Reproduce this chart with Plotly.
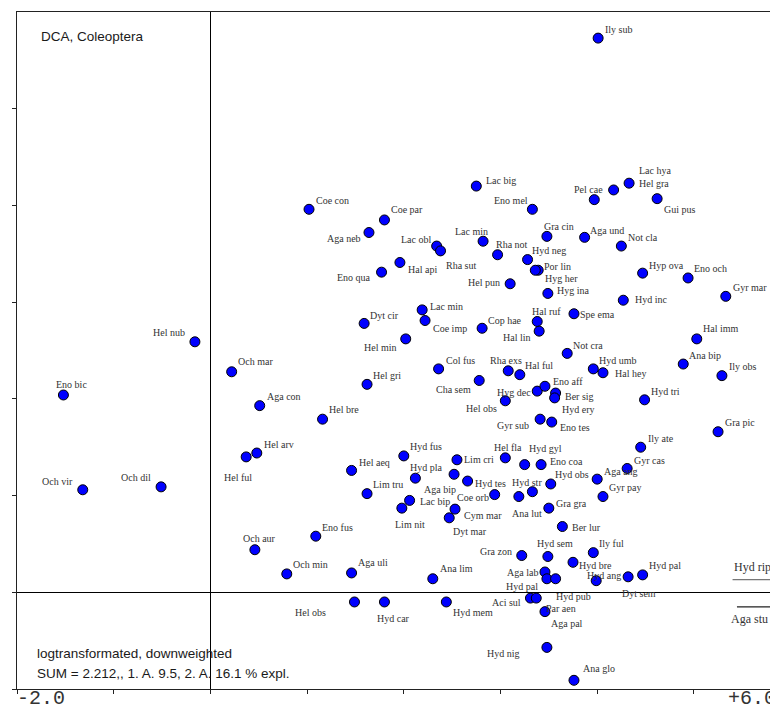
import plotly.graph_objects as go

# DCA species scores (axis 1, axis 2)
SPECIES = [
    "Ily sub", "Lac big", "Eno mel", "Pel cae", "Hel gra", "Lac hya", "Gui pus",
    "Coe con", "Coe par", "Aga neb", "Lac obl", "Rha sut", "Lac min", "Rha not",
    "Gra cin", "Aga und", "Not cla", "Hyd neg", "Por lin", "Hyg her", "Hyg ina",
    "Hel pun", "Hal api", "Eno qua", "Hyp ova", "Eno och", "Gyr mar", "Hyd inc",
    "Spe ema", "Hal ruf", "Hal lin", "Lac min", "Coe imp", "Dyt cir", "Hel min",
    "Cop hae", "Hel nub", "Och mar", "Eno bic", "Not cra", "Hal imm", "Ana bip",
    "Ily obs", "Hyd umb", "Hal hey", "Hyd tri", "Gra pic", "Ily ate", "Gyr cas",
    "Aga ang", "Gyr pay", "Hyd obs", "Hyd str", "Ana lut", "Hyd tes", "Coe orb",
    "Eno coa", "Hyd gyl", "Hel fla", "Lim cri", "Hyd fus", "Hel aeq", "Hyd pla",
    "Aga bip", "Lac bip", "Lim nit", "Lim tru", "Cym mar", "Dyt mar", "Ber lur",
    "Eno fus", "Och aur", "Hel arv", "Hel ful", "Och vir", "Och dil", "Aga con",
    "Hel gri", "Hel bre", "Col fus", "Cha sem", "Rha exs", "Hal ful", "Hyg dec",
    "Eno aff", "Ber sig", "Hyd ery", "Hel obs", "Gyr sub", "Eno tes", "Gra gra",
    "Gra zon", "Hyd sem", "Ily ful", "Hyd bre", "Hyd ang", "Dyt sem", "Hyd pal",
    "Aga lab", "Hyd pal", "Hyd pub", "Aci sul", "Par aen", "Aga pal", "Hyd nig",
    "Ana glo", "Ana lim", "Aga uli", "Och min", "Hel obs", "Hyd car", "Hyd mem",
]

AX1 = [
    4.01, 2.75, 3.33, 3.97, 4.17, 4.33, 4.62,
    1.02, 1.80, 1.64, 2.34, 2.38, 2.82, 2.97,
    3.48, 3.87, 4.25, 3.28, 3.39, 3.36, 3.49,
    3.10, 1.96, 1.77, 4.47, 4.94, 5.33, 4.27,
    3.76, 3.38, 3.40, 2.19, 2.22, 1.59, 2.02,
    2.81, -0.16, 0.22, -1.52, 3.69, 5.03, 4.89,
    5.29, 3.96, 4.06, 4.49, 5.25, 4.45, 4.31,
    4.00, 4.06, 3.52, 3.33, 3.19, 2.66, 2.94,
    3.42, 3.25, 3.05, 2.55, 2.00, 1.46, 2.12,
    2.52, 2.06, 1.98, 1.62, 2.53, 2.47, 3.64,
    1.09, 0.46, 0.48, 0.37, -1.32, -0.51, 0.51,
    1.62, 1.16, 2.36, 2.78, 3.08, 3.20, 3.38,
    3.46, 3.57, 3.56, 3.05, 3.41, 3.53, 3.50,
    3.22, 3.49, 3.96, 3.75, 3.99, 4.32, 4.47,
    3.46, 3.48, 3.57, 3.31, 3.37, 3.46, 3.48,
    3.76, 2.30, 1.46, 0.79, 1.49, 1.80, 2.44,
]

AX2 = [
    5.73, 4.20, 3.96, 4.06, 4.16, 4.23, 4.07,
    3.96, 3.85, 3.72, 3.58, 3.53, 3.63, 3.49,
    3.68, 3.67, 3.58, 3.44, 3.33, 3.33, 3.09,
    3.19, 3.41, 3.31, 3.30, 3.25, 3.06, 3.02,
    2.88, 2.80, 2.70, 2.92, 2.81, 2.78, 2.62,
    2.73, 2.59, 2.28, 2.04, 2.47, 2.62, 2.36,
    2.24, 2.31, 2.27, 1.99, 1.66, 1.50, 1.28,
    1.17, 0.99, 1.12, 1.04, 0.99, 1.15, 1.01,
    1.32, 1.32, 1.39, 1.37, 1.41, 1.26, 1.18,
    1.22, 0.95, 0.87, 1.02, 0.86, 0.77, 0.68,
    0.58, 0.44, 1.44, 1.40, 1.06, 1.09, 1.93,
    2.15, 1.79, 2.31, 2.19, 2.29, 2.25, 2.08,
    2.13, 2.06, 2.01, 1.98, 1.79, 1.76, 0.87,
    0.38, 0.37, 0.41, 0.31, 0.12, 0.16, 0.18,
    0.21, 0.14, 0.14, -0.06, -0.06, -0.20, -0.57,
    -0.91, 0.14, 0.20, 0.19, -0.10, -0.10, -0.10,
]

# species lying beyond the right edge, shown with arrows
OFFSCALE_NAMES = ["Hyd rip", "Aga stu"]
OFFSCALE_AX2 = [0.13, -0.15]

# label placement: (anchor side, x shift px, y shift px)
LABEL_POS = [
    ("l", 5, 9), ("l", 8, 6), ("r", -2, 9), ("r", 11, 10), ("l", 23, 6), ("l", 8, 13), ("l", 5, -11),
    ("l", 5, 9), ("l", 5, 10), ("r", -6, -6), ("r", -4, 7), ("l", 3, -15), ("r", 7, 10), ("l", -4, 10),
    ("l", -5, 10), ("l", 3, 7), ("l", 5, 9), ("l", 2, 9), ("l", 4, 4), ("l", 8, -8), ("l", 7, 3),
    ("r", -8, 1), ("l", 6, -7), ("r", -9, -5), ("l", 4, 8), ("l", 4, 9), ("l", 5, 9), ("l", 10, 1),
    ("l", 4, -1), ("l", -7, 10), ("r", -6, -6), ("l", 6, 3), ("l", 6, -8), ("l", 4, 8), ("r", -7, -9),
    ("l", 4, 8), ("r", -8, 9), ("l", 4, 10), ("l", -9, 10), ("l", 4, 8), ("l", 4, 10), ("l", 4, 9),
    ("l", 5, 9), ("l", 4, 8), ("l", 10, -1), ("l", 4, 8), ("l", 5, 9), ("l", 5, 9), ("l", 5, 8),
    ("l", 5, 8), ("l", 4, 9), ("l", 2, 9), ("l", -22, 9), ("l", -9, -17), ("l", 5, -2), ("r", -4, -3),
    ("l", 7, 3), ("l", 2, 16), ("l", -13, 10), ("l", 5, 0), ("l", 4, 9), ("l", 5, 8), ("l", -7, 11),
    ("r", 4, -15), ("l", 8, -1), ("l", -9, -16), ("l", 4, 9), ("l", 7, -6), ("l", 2, -14), ("l", 8, -1),
    ("l", 4, 9), ("l", -14, 11), ("l", 5, 9), ("l", -24, -21), ("r", -8, 8), ("r", -8, 9), ("l", 5, 9),
    ("l", 4, 9), ("l", 4, 10), ("l", 5, 8), ("r", -6, -9), ("l", -20, 10), ("l", 3, 9), ("r", -4, -1),
    ("l", 6, 5), ("l", 7, -3), ("l", 5, -12), ("r", -6, -8), ("r", -9, -6), ("l", 6, -5), ("l", 5, 5),
    ("r", -8, 4), ("l", -13, 13), ("l", 4, 9), ("l", 4, -3), ("l", -11, 5), ("l", -8, -17), ("l", 4, 9),
    ("r", -5, -1), ("r", -7, -8), ("l", -2, -18), ("r", -7, -4), ("l", 8, -10), ("l", 4, -12), ("r", -25, -6),
    ("l", 7, 12), ("l", 5, 10), ("l", 4, 10), ("l", 4, 9), ("r", -26, -11), ("l", -9, -17), ("l", 5, -11),
]

X_RANGE = [-2.0, 5.87]
Y_RANGE = [-1.0, 6.0]

LABEL_FONT = dict(family="Liberation Serif, Times New Roman, serif", size=10, color="#333333")
NOTE_FONT = dict(family="Liberation Sans, Arial, sans-serif", size=13.5, color="#1a1a1a")
TICK_FONT = dict(family="Liberation Mono, Courier New, monospace", size=20, color="#333333")

fig = go.Figure()

fig.add_trace(
    go.Scatter(
        x=AX1,
        y=AX2,
        mode="markers",
        marker=dict(size=10, color="#0000ff", line=dict(color="black", width=1)),
        text=SPECIES,
        hoverinfo="text",
        showlegend=False,
    )
)

annotations = []
for name, x, y, (side, dx, dy) in zip(SPECIES, AX1, AX2, LABEL_POS):
    annotations.append(dict(
        x=x, y=y, xref="x", yref="y",
        text=name, showarrow=False,
        xanchor="left" if side == "l" else "right",
        yanchor="middle",
        xshift=dx, yshift=dy,
        font=LABEL_FONT,
    ))

# off-scale species: a line / arrow running out of the plot to the right
off_start = [5.40, 5.43]
for i, (name, y) in enumerate(zip(OFFSCALE_NAMES, OFFSCALE_AX2)):
    if i == 0:
        fig.add_shape(type="line", x0=off_start[i], x1=X_RANGE[1], y0=y, y1=y,
                      xref="x", yref="y", line=dict(color="#555555", width=1))
        label_shift = (-1, 13)
    else:
        annotations.append(dict(
            x=X_RANGE[1] - 0.02, y=y, ax=off_start[i], ay=y,
            xref="x", yref="y", axref="x", ayref="y",
            text="", showarrow=True, arrowhead=2, arrowsize=1,
            arrowwidth=1.2, arrowcolor="#222222",
        ))
        label_shift = (-6, -12)
    annotations.append(dict(
        x=off_start[i], y=y, xref="x", yref="y", text=name, showarrow=False,
        xanchor="left", yanchor="middle",
        xshift=label_shift[0], yshift=label_shift[1],
        font=dict(family=LABEL_FONT["family"], size=12, color="#333333"),
    ))

# diagram notes
annotations += [
    dict(x=0, y=1, xref="paper", yref="paper", text="DCA, Coleoptera", showarrow=False,
         xanchor="left", yanchor="middle", xshift=22, yshift=-24, font=NOTE_FONT),
    dict(x=0, y=0, xref="paper", yref="paper", text="logtransformated, downweighted",
         showarrow=False, xanchor="left", yanchor="middle", xshift=18, yshift=36, font=NOTE_FONT),
    dict(x=0, y=0, xref="paper", yref="paper", text="SUM = 2.212,, 1. A. 9.5, 2. A. 16.1 % expl.",
         showarrow=False, xanchor="left", yanchor="middle", xshift=18, yshift=16, font=NOTE_FONT),
    # axis end labels, sitting on the lower edge of the page
    dict(x=0, y=0, xref="paper", yref="paper", text="-2.0", showarrow=False,
         xanchor="left", yanchor="bottom", xshift=-2, yshift=-23, font=TICK_FONT),
    dict(x=1, y=0, xref="paper", yref="paper", text="+6.0", showarrow=False,
         xanchor="right", yanchor="bottom", xshift=0, yshift=-23, font=TICK_FONT),
]

# the page body keeps an 8px margin, so the figure is 8px smaller each way
fig.update_layout(
    width=770,
    height=701,
    margin=dict(l=9, r=0, t=4, b=20),
    paper_bgcolor="white",
    plot_bgcolor="white",
    annotations=annotations,
    showlegend=False,
)

fig.update_xaxes(
    range=X_RANGE,
    showline=True, linecolor="#222222", linewidth=1, mirror=True,
    ticks="outside", tickvals=[-2, -1, 0, 1, 2, 3, 4, 5], ticklen=4, tickcolor="#222222",
    showticklabels=False, showgrid=False,
    zeroline=True, zerolinecolor="black", zerolinewidth=1,
)
fig.update_yaxes(
    range=Y_RANGE,
    showline=True, linecolor="#222222", linewidth=1, mirror=False,
    ticks="outside", tickvals=[-1, 0, 1, 2, 3, 4, 5], ticklen=4, tickcolor="#222222",
    showticklabels=False, showgrid=False,
    zeroline=True, zerolinecolor="black", zerolinewidth=1,
)

fig.write_html("out.html")
